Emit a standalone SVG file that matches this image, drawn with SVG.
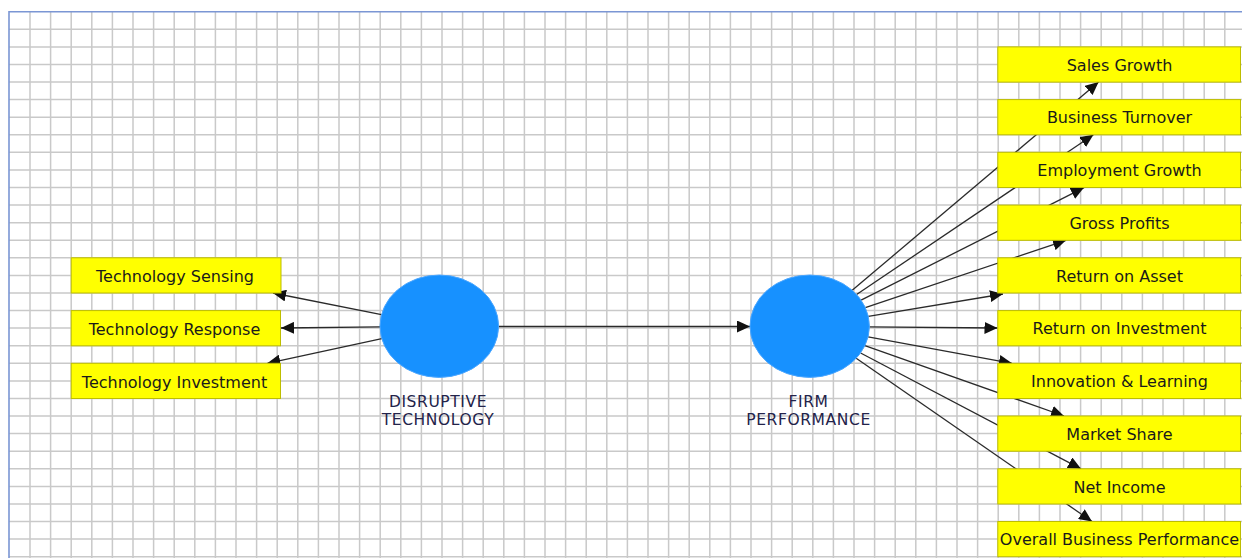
<svg xmlns="http://www.w3.org/2000/svg" width="1242" height="558" viewBox="0 0 1242 558">
  <style>
    .grid { stroke: #c9c9c9; stroke-width: 1.5; fill: none; }
    .frame { stroke: #7b96d4; stroke-width: 1.6; fill: none; }
    .ind rect { fill: #ffff00; stroke: #bdbd00; stroke-width: 1; }
    .ind text { font-family: "DejaVu Sans", "Noto Sans", sans-serif; font-size: 16px; fill: #1a1a1a; text-anchor: middle; }
    .lv ellipse { fill: #1791ff; stroke: #4aa6ff; stroke-width: 1; }
    .lv text { font-family: "DejaVu Sans", "Noto Sans", sans-serif; font-size: 15.5px; fill: #23234a; text-anchor: middle; letter-spacing: 0.6px; }
    .conn line { stroke: #2a2a2a; stroke-width: 1.3; marker-end: url(#head); }
  </style>
  <defs>
    <marker id="head" markerUnits="userSpaceOnUse" markerWidth="13" markerHeight="12" refX="13" refY="6" orient="auto">
      <path d="M0,0 L13,6 L0,12 z" fill="#111"/>
    </marker>
  </defs>

  <rect x="0" y="0" width="1242" height="558" fill="#ffffff"/>

  <!-- background grid -->
  <path class="grid" d="
    M30.0,11.7V558 M50.6,11.7V558 M71.2,11.7V558 M91.8,11.7V558 M112.4,11.7V558 M133.0,11.7V558
    M153.6,11.7V558 M174.2,11.7V558 M194.8,11.7V558 M215.4,11.7V558 M236.0,11.7V558 M256.6,11.7V558
    M277.2,11.7V558 M297.8,11.7V558 M318.4,11.7V558 M339.0,11.7V558 M359.6,11.7V558 M380.2,11.7V558
    M400.8,11.7V558 M421.4,11.7V558 M442.0,11.7V558 M462.6,11.7V558 M483.2,11.7V558 M503.8,11.7V558
    M524.4,11.7V558 M545.0,11.7V558 M565.6,11.7V558 M586.2,11.7V558 M606.8,11.7V558 M627.4,11.7V558
    M648.0,11.7V558 M668.6,11.7V558 M689.2,11.7V558 M709.8,11.7V558 M730.4,11.7V558 M751.0,11.7V558
    M771.6,11.7V558 M792.2,11.7V558 M812.8,11.7V558 M833.4,11.7V558 M854.0,11.7V558 M874.6,11.7V558
    M895.2,11.7V558 M915.8,11.7V558 M936.4,11.7V558 M957.0,11.7V558 M977.6,11.7V558 M998.2,11.7V558
    M1018.8,11.7V558 M1039.4,11.7V558 M1060.0,11.7V558 M1080.6,11.7V558 M1101.2,11.7V558 M1121.8,11.7V558
    M1142.4,11.7V558 M1163.0,11.7V558 M1183.6,11.7V558 M1204.2,11.7V558 M1224.8,11.7V558
    M9,29.3H1242 M9,46.9H1242 M9,64.4H1242 M9,82.0H1242 M9,99.6H1242 M9,117.2H1242
    M9,134.8H1242 M9,152.3H1242 M9,169.9H1242 M9,187.5H1242 M9,205.1H1242 M9,222.7H1242
    M9,240.2H1242 M9,257.8H1242 M9,275.4H1242 M9,293.0H1242 M9,310.6H1242 M9,328.1H1242
    M9,345.7H1242 M9,363.3H1242 M9,380.9H1242 M9,398.5H1242 M9,416.0H1242 M9,433.6H1242
    M9,451.2H1242 M9,468.8H1242 M9,486.4H1242 M9,503.9H1242 M9,521.5H1242 M9,539.1H1242
    M9,556.7H1242"/>
  <path class="frame" d="M9,558V11.7H1242"/>

  <!-- paths between constructs and indicators -->
  <g id="connectors" class="conn">
    <line x1="498.6" y1="326.5" x2="750" y2="326.5"/>
    <line x1="381.5" y1="314.6" x2="273" y2="293"/>
    <line x1="380" y1="326.9" x2="281" y2="328"/>
    <line x1="381.8" y1="338.6" x2="267.3" y2="363.3"/>
    <line x1="852.2" y1="290.3" x2="1098.6" y2="82.1"/>
    <line x1="856.6" y1="294.5" x2="1093.4" y2="134.8"/>
    <line x1="861.1" y1="300.2" x2="1084" y2="187.6"/>
    <line x1="865.3" y1="307.6" x2="1066" y2="240.3"/>
    <line x1="868.3" y1="316.4" x2="1003" y2="294"/>
    <line x1="869.4" y1="326.8" x2="997.5" y2="328"/>
    <line x1="868.1" y1="336.9" x2="1012" y2="363.3"/>
    <line x1="864.9" y1="345.7" x2="1064" y2="416"/>
    <line x1="860.6" y1="353.0" x2="1081" y2="468.8"/>
    <line x1="856.2" y1="358.3" x2="1092" y2="521.5"/>
  </g>

  <!-- latent constructs -->
  <g id="disruptive-technology" class="lv">
    <ellipse cx="439.3" cy="326.2" rx="59.3" ry="51.2"/>
    <text x="438" y="407">DISRUPTIVE</text>
    <text x="438" y="425">TECHNOLOGY</text>
  </g>
  <g id="firm-performance" class="lv">
    <ellipse cx="809.7" cy="326.2" rx="59.7" ry="51.2"/>
    <text x="808.5" y="407">FIRM</text>
    <text x="808.5" y="425">PERFORMANCE</text>
  </g>

  <!-- indicators of disruptive technology -->
  <g id="technology-sensing" class="ind">
    <rect x="71.2" y="257.8" width="209.8" height="35.2"/>
    <text x="175" y="282">Technology Sensing</text>
  </g>
  <g id="technology-response" class="ind">
    <rect x="71.2" y="310.6" width="209.3" height="35.2"/>
    <text x="174.5" y="335">Technology Response</text>
  </g>
  <g id="technology-investment" class="ind">
    <rect x="71.2" y="363.3" width="209.3" height="35.2"/>
    <text x="174.5" y="387.5">Technology Investment</text>
  </g>

  <!-- indicators of firm performance -->
  <g id="sales-growth" class="ind">
    <rect x="997.8" y="46.9" width="242.7" height="35.2"/>
    <text x="1119.5" y="70.7">Sales Growth</text>
  </g>
  <g id="business-turnover" class="ind">
    <rect x="997.8" y="99.6" width="242.7" height="35.2"/>
    <text x="1119.5" y="123.4">Business Turnover</text>
  </g>
  <g id="employment-growth" class="ind">
    <rect x="997.8" y="152.3" width="242.7" height="35.2"/>
    <text x="1119.5" y="176.1">Employment Growth</text>
  </g>
  <g id="gross-profits" class="ind">
    <rect x="997.8" y="205.1" width="242.7" height="35.2"/>
    <text x="1119.5" y="228.9">Gross Profits</text>
  </g>
  <g id="return-on-asset" class="ind">
    <rect x="997.8" y="257.8" width="242.7" height="35.2"/>
    <text x="1119.5" y="281.6">Return on Asset</text>
  </g>
  <g id="return-on-investment" class="ind">
    <rect x="997.8" y="310.6" width="242.7" height="35.2"/>
    <text x="1119.5" y="334.4">Return on Investment</text>
  </g>
  <g id="innovation-learning" class="ind">
    <rect x="997.8" y="363.3" width="242.7" height="35.2"/>
    <text x="1119.5" y="387.1">Innovation &amp; Learning</text>
  </g>
  <g id="market-share" class="ind">
    <rect x="997.8" y="416.0" width="242.7" height="35.2"/>
    <text x="1119.5" y="439.8">Market Share</text>
  </g>
  <g id="net-income" class="ind">
    <rect x="997.8" y="468.8" width="242.7" height="35.2"/>
    <text x="1119.5" y="492.6">Net Income</text>
  </g>
  <g id="overall-business-performance" class="ind">
    <rect x="997.8" y="521.5" width="242.7" height="35.2"/>
    <text x="1119.5" y="545.3">Overall Business Performance</text>
  </g>
</svg>
